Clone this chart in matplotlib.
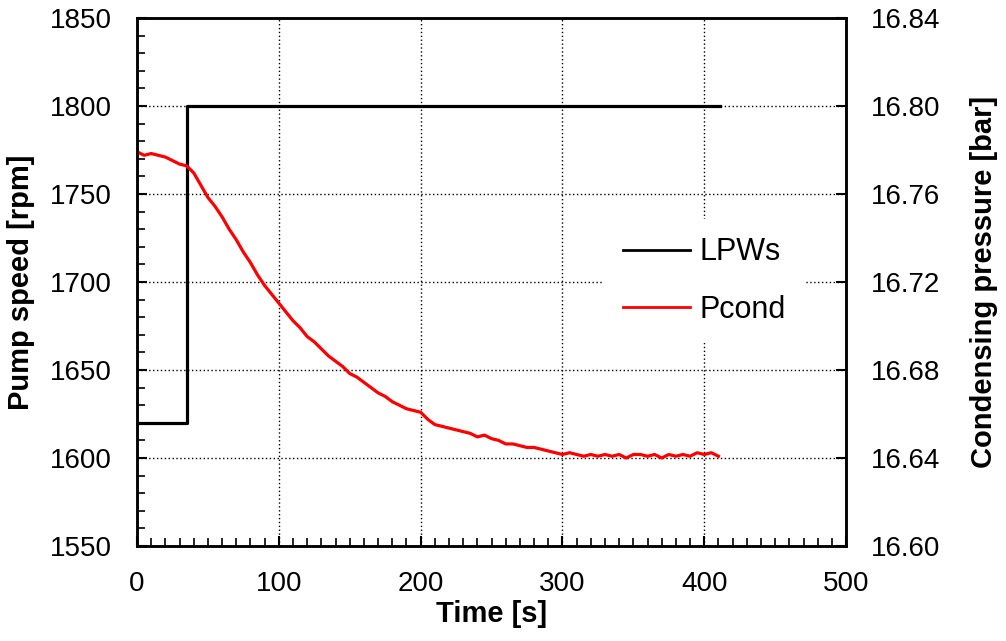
import numpy as np
import matplotlib
matplotlib.use('Agg')
import matplotlib.pyplot as plt
from matplotlib.ticker import MultipleLocator

plt.rcParams['font.family'] = ['Liberation Sans', 'DejaVu Sans']

# pump speed set point (left axis)
t_speed = [0, 35, 35, 411]
speed = [1620, 1620, 1800, 1800]

# condensing pressure (right axis), read every 5 s
t_p = list(range(0, 415, 5))
pcond = [16.7792, 16.7776, 16.7784, 16.7776, 16.7768, 16.7752, 16.7736, 16.7728,
         16.7696, 16.7640, 16.7584, 16.7544, 16.7496, 16.7440, 16.7392, 16.7336,
         16.7288, 16.7232, 16.7184, 16.7144, 16.7104, 16.7064, 16.7024, 16.6992,
         16.6952, 16.6928, 16.6896, 16.6864, 16.6840, 16.6816, 16.6784, 16.6768,
         16.6744, 16.6720, 16.6696, 16.6680, 16.6656, 16.6640, 16.6624, 16.6616,
         16.6608, 16.6576, 16.6552, 16.6544, 16.6536, 16.6528, 16.6520, 16.6512,
         16.6496, 16.6504, 16.6488, 16.6480, 16.6464, 16.6464, 16.6456, 16.6448,
         16.6448, 16.6440, 16.6432, 16.6424, 16.6416, 16.6424, 16.6416, 16.6408,
         16.6416, 16.6408, 16.6416, 16.6408, 16.6416, 16.6400, 16.6416, 16.6416,
         16.6408, 16.6416, 16.6400, 16.6416, 16.6408, 16.6416, 16.6408, 16.6424,
         16.6416, 16.6424, 16.6408]

fig = plt.figure(figsize=(10.06, 6.41), dpi=100)
ax = fig.add_axes([0.1362, 0.1482, 0.7048, 0.8237])
ax2 = ax.twinx()

ax.plot(t_speed, speed, color='black', lw=2.3, label='LPWs')
ax2.plot(t_p, pcond, color='red', lw=2.3, label='Pcond')

ax.set_xlim(0, 500)
ax.set_ylim(1550, 1850)
ax2.set_ylim(16.60, 16.84)
ax.set_xticks(np.arange(0, 501, 100))
ax.set_yticks(np.arange(1550, 1851, 50))
ax2.set_yticks(np.arange(16.60, 16.841, 0.04))
ax2.set_yticklabels(['%.2f' % v for v in np.arange(16.60, 16.841, 0.04)])
ax.xaxis.set_minor_locator(MultipleLocator(10))
ax.yaxis.set_minor_locator(MultipleLocator(10))

ax.grid(True, which='major', color='black', linestyle=(0, (1, 1.8)), lw=1.0)
ax.tick_params(axis='both', which='major', direction='in', length=7, width=1.5,
               labelsize=20, pad=18, top=False)
ax.tick_params(axis='both', which='minor', direction='in', length=6, width=1.2, top=False)
ax2.tick_params(axis='y', which='major', direction='in', length=7, width=1.5,
                labelsize=20, pad=18)
for a in (ax, ax2):
    for s in a.spines.values():
        s.set_linewidth(1.8)

ax.set_xlabel('Time [s]', fontsize=21, fontweight='bold', labelpad=2)
ax.set_ylabel('Pump speed [rpm]', fontsize=21, fontweight='bold', labelpad=11)
ax2.set_ylabel('Condensing pressure [bar]', fontsize=21, fontweight='bold', labelpad=21)

leg_l1, = ax2.plot([], [], color='black', lw=2)
leg_l2, = ax2.plot([], [], color='red', lw=2)
leg = ax2.legend([leg_l1, leg_l2], ['LPWs', 'Pcond'], loc='center',
                 bbox_to_anchor=(704 / 1006, 1 - 281 / 641), bbox_transform=fig.transFigure,
                 fontsize=22, frameon=True, fancybox=False, framealpha=1,
                 edgecolor='none', facecolor='white', handlelength=2.2,
                 handletextpad=0.3, labelspacing=0.9, borderpad=0.6)

fig.savefig('out.png', dpi=100)
